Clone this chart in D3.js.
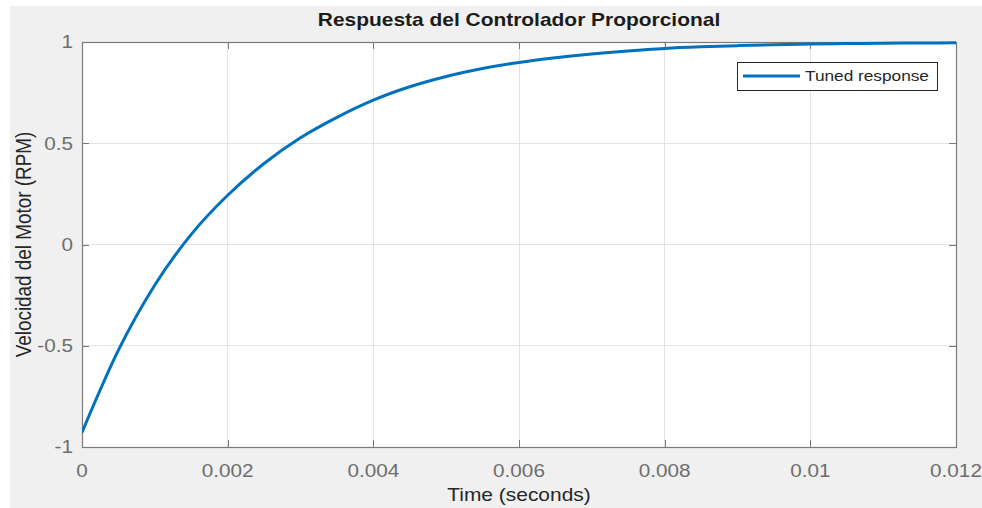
<!DOCTYPE html>
<html>
<head>
<meta charset="utf-8">
<script src="https://cdn.jsdelivr.net/npm/d3@7"></script>
<style>
html,body{margin:0;padding:0;background:#ffffff;}
svg{display:block;}
text{font-family:"Liberation Sans",Arial,Helvetica,sans-serif;}
</style>
</head>
<body>
<svg id="chart" width="982" height="508"></svg>
<script>
// ---- data ----
const timeValues = [0, 0.0005, 0.001, 0.0015, 0.002, 0.0025, 0.003, 0.0035, 0.004, 0.0045,
  0.005, 0.0055, 0.006, 0.0065, 0.007, 0.0075, 0.008, 0.0085, 0.009, 0.0095,
  0.01, 0.0105, 0.011, 0.0115, 0.012];
const speedValues = [-0.928, -0.522, -0.2, 0.05, 0.243, 0.4, 0.527, 0.628, 0.713, 0.779,
  0.83, 0.869, 0.899, 0.922, 0.941, 0.956, 0.968, 0.976, 0.982, 0.987,
  0.99, 0.992, 0.994, 0.995, 0.996];
const xTicks = [0, 0.002, 0.004, 0.006, 0.008, 0.01, 0.012];
const xTickLabels = ["0", "0.002", "0.004", "0.006", "0.008", "0.01", "0.012"];
const yTicks = [-1, -0.5, 0, 0.5, 1];
const yTickLabels = ["-1", "-0.5", "0", "0.5", "1"];
const seriesName = "Tuned response";
const titleText = "Respuesta del Controlador Proporcional";
const xLabelText = "Time (seconds)";
const yLabelText = "Velocidad del Motor (RPM)";

// ---- layout ----
const W = 982, H = 508;
const plot = {left: 82, right: 956, top: 42, bottom: 447};
const SX = 1.12; // horizontal glyph stretch seen in the reference

const svg = d3.select("#chart");
svg.append("rect").attr("x", 10).attr("y", 6).attr("width", W - 10).attr("height", H - 6).attr("fill", "#f0f0f0");

const x = d3.scaleLinear().domain([0, 0.012]).range([plot.left, plot.right]);
const y = d3.scaleLinear().domain([-1, 1]).range([plot.bottom, plot.top]);

// plot background
svg.append("rect").attr("x", plot.left).attr("y", plot.top)
  .attr("width", plot.right - plot.left).attr("height", plot.bottom - plot.top)
  .attr("fill", "#ffffff");

// grid
const grid = svg.append("g");
xTicks.forEach(t => {
  grid.append("line").attr("x1", x(t)).attr("x2", x(t)).attr("y1", plot.top).attr("y2", plot.bottom)
    .attr("stroke", "#e3e3e3").attr("stroke-width", 1).attr("shape-rendering", "crispEdges");
});
yTicks.forEach(t => {
  grid.append("line").attr("x1", plot.left).attr("x2", plot.right).attr("y1", y(t)).attr("y2", y(t))
    .attr("stroke", "#e3e3e3").attr("stroke-width", 1).attr("shape-rendering", "crispEdges");
});

// axes using d3 axis generators (inner ticks, labels drawn separately for stretch)
const tickLen = 7;
const axisColor = "#7a7a7a";
function styleAxis(g) {
  g.select(".domain").remove();
  g.selectAll(".tick line").attr("stroke", axisColor).attr("shape-rendering", "crispEdges");
  g.selectAll(".tick text").remove();
}
svg.append("g").attr("transform", `translate(0,${plot.bottom})`)
  .call(d3.axisBottom(x).tickValues(xTicks).tickSizeInner(-tickLen).tickSizeOuter(0)).call(styleAxis);
svg.append("g").attr("transform", `translate(0,${plot.top})`)
  .call(d3.axisTop(x).tickValues(xTicks).tickSizeInner(-tickLen).tickSizeOuter(0)).call(styleAxis);
svg.append("g").attr("transform", `translate(${plot.left},0)`)
  .call(d3.axisLeft(y).tickValues(yTicks).tickSizeInner(-tickLen).tickSizeOuter(0)).call(styleAxis);
svg.append("g").attr("transform", `translate(${plot.right},0)`)
  .call(d3.axisRight(y).tickValues(yTicks).tickSizeInner(-tickLen).tickSizeOuter(0)).call(styleAxis);

// box
svg.append("rect").attr("x", plot.left + 0.5).attr("y", plot.top + 0.5)
  .attr("width", plot.right - plot.left).attr("height", plot.bottom - plot.top)
  .attr("fill", "none").attr("stroke", axisColor).attr("stroke-width", 1.2);

function stretchedText(xp, yp, str, opts) {
  const t = svg.append("text")
    .attr("transform", `translate(${xp},${yp}) scale(${SX},1)`)
    .attr("text-anchor", opts.anchor || "middle")
    .attr("font-size", opts.size)
    .attr("fill", opts.color)
    .text(str);
  if (opts.bold) t.attr("font-weight", "bold");
  if (opts.dy) t.attr("dy", opts.dy);
  return t;
}

// tick labels
const tickColor = "#6e6e6e";
xTicks.forEach((t, i) => stretchedText(x(t), 477, xTickLabels[i], {size: 18.5, color: tickColor}));
yTicks.forEach((t, i) => stretchedText(73, y(t), yTickLabels[i], {size: 18.5, color: tickColor, anchor: "end", dy: "0.35em"}));

// title and labels
stretchedText((plot.left + plot.right) / 2, 26, titleText, {size: 18.7, color: "#1c1c1c", bold: true});
stretchedText((plot.left + plot.right) / 2, 501, xLabelText, {size: 18.7, color: "#262626"});
svg.append("text")
  .attr("transform", `translate(31,${(plot.top + plot.bottom) / 2}) rotate(-90) scale(1,${SX})`)
  .attr("text-anchor", "middle").attr("font-size", 18.9).attr("fill", "#262626")
  .text(yLabelText);

// curve
svg.append("clipPath").attr("id", "clip").append("rect")
  .attr("x", plot.left).attr("y", plot.top - 2).attr("width", plot.right - plot.left).attr("height", plot.bottom - plot.top + 4);
const pts = timeValues.map((t, i) => [t, speedValues[i]]);
const line = d3.line().x(d => x(d[0])).y(d => y(d[1])).curve(d3.curveMonotoneX);
svg.append("path").datum(pts).attr("d", line)
  .attr("fill", "none").attr("stroke", "#0072BD").attr("stroke-width", 3)
  .attr("stroke-linejoin", "round").attr("clip-path", "url(#clip)");

// legend
const lg = svg.append("g");
lg.append("rect").attr("x", 737.5).attr("y", 62.5).attr("width", 200).attr("height", 28)
  .attr("fill", "#ffffff").attr("stroke", "#262626").attr("stroke-width", 1);
lg.append("line").attr("x1", 743).attr("x2", 800).attr("y1", 76).attr("y2", 76)
  .attr("stroke", "#0072BD").attr("stroke-width", 3);
stretchedText(805, 76, seriesName, {size: 15.4, color: "#262626", anchor: "start", dy: "0.35em"});
</script>
</body>
</html>
